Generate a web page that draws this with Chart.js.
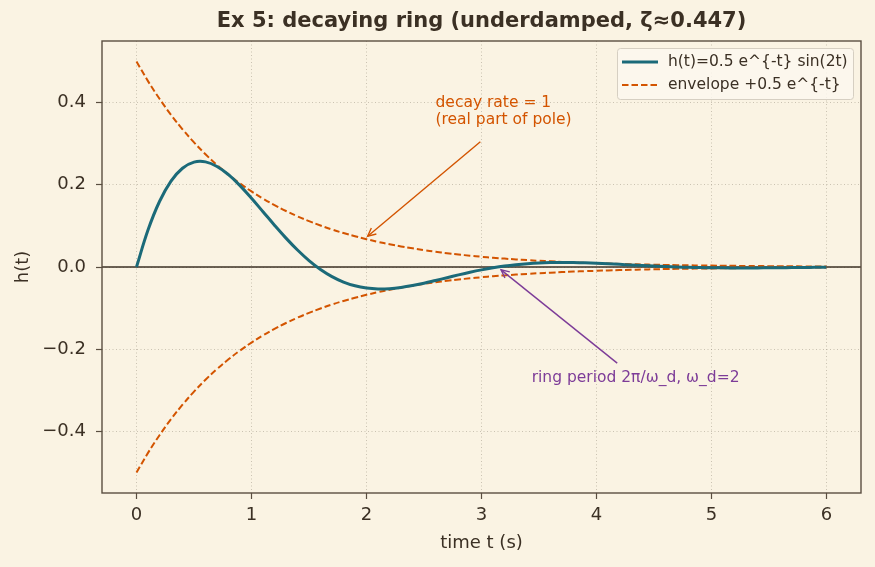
<!DOCTYPE html>
<html><head><meta charset="utf-8">
<script src="https://cdn.jsdelivr.net/npm/chart.js@4.4.1/dist/chart.umd.min.js"></script>
<style>html,body{margin:0;padding:0;background:#FAF3E3;}#wrap{width:875px;height:567px;}</style>
</head><body><div id="wrap"><canvas id="c" width="875" height="567"></canvas></div>
<script>
const T = [0,0.1,0.2,0.3,0.4,0.5,0.6,0.7,0.8,0.9,1.0,1.1,1.2,1.3,1.4,1.5,1.6,1.7,1.8,1.9,2.0,2.1,2.2,2.3,2.4,2.5,2.6,2.7,2.8,2.9,3.0,3.1,3.2,3.3,3.4,3.5,3.6,3.7,3.8,3.9,4.0,4.1,4.2,4.3,4.4,4.5,4.6,4.7,4.8,4.9,5.0,5.1,5.2,5.3,5.4,5.5,5.6,5.7,5.8,5.9,6.0];
const H = [0,0.0899,0.1594,0.2091,0.2404,0.2552,0.2558,0.2447,0.2246,0.1980,0.1673,0.1346,0.1017,0.0703,0.0413,0.0157,-0.0059,-0.0233,-0.0366,-0.0458,-0.0512,-0.0534,-0.0527,-0.0498,-0.0452,-0.0394,-0.0328,-0.0260,-0.0192,-0.0128,-0.0070,-0.0019,0.0024,0.0057,0.0082,0.0099,0.0108,0.0111,0.0108,0.0101,0.0091,0.0078,0.0064,0.0050,0.0036,0.0023,0.0011,0.0001,-0.0007,-0.0014,-0.0018,-0.0021,-0.0023,-0.0023,-0.0022,-0.0020,-0.0018,-0.0015,-0.0012,-0.0009,-0.0007];
const ENV_POS = [0.5,0.4524,0.4094,0.3704,0.3352,0.3033,0.2744,0.2483,0.2247,0.2033,0.1839,0.1664,0.1506,0.1363,0.1233,0.1116,0.1010,0.0913,0.0826,0.0748,0.0677,0.0612,0.0554,0.0501,0.0454,0.0410,0.0371,0.0336,0.0304,0.0275,0.0249,0.0225,0.0204,0.0184,0.0167,0.0151,0.0137,0.0124,0.0112,0.0101,0.0092,0.0083,0.0075,0.0068,0.0061,0.0056,0.0050,0.0045,0.0041,0.0037,0.0034,0.0030,0.0028,0.0025,0.0023,0.0020,0.0018,0.0017,0.0015,0.0014,0.0012];
const ENV_NEG = [-0.5,-0.4524,-0.4094,-0.3704,-0.3352,-0.3033,-0.2744,-0.2483,-0.2247,-0.2033,-0.1839,-0.1664,-0.1506,-0.1363,-0.1233,-0.1116,-0.1010,-0.0913,-0.0826,-0.0748,-0.0677,-0.0612,-0.0554,-0.0501,-0.0454,-0.0410,-0.0371,-0.0336,-0.0304,-0.0275,-0.0249,-0.0225,-0.0204,-0.0184,-0.0167,-0.0151,-0.0137,-0.0124,-0.0112,-0.0101,-0.0092,-0.0083,-0.0075,-0.0068,-0.0061,-0.0056,-0.0050,-0.0045,-0.0041,-0.0037,-0.0034,-0.0030,-0.0028,-0.0025,-0.0023,-0.0020,-0.0018,-0.0017,-0.0015,-0.0014,-0.0012];
const X_TICKS = [0,1,2,3,4,5,6];
const Y_TICKS = [-0.4,-0.2,0.0,0.2,0.4];
const ZERO_X = [-0.3,6.3];
const ZERO_Y = [0,0];

const TXT = '#3b3024';
const TEAL = '#1b6a79';
const ORANGE = '#d35400';
const PURPLE = '#7d3c98';
const FONT = "'DejaVu Sans', sans-serif";

function pts(xs, ys){ return xs.map((x,i)=>({x:x,y:ys[i]})); }

function arrow(ctx, x1,y1,x2,y2,color){
  ctx.save();
  ctx.strokeStyle=color; ctx.fillStyle=color; ctx.lineWidth=1.4;
  ctx.beginPath(); ctx.moveTo(x1,y1); ctx.lineTo(x2,y2); ctx.stroke();
  const a=Math.atan2(y2-y1,x2-x1), L=9, w=0.45;
  ctx.beginPath();
  ctx.moveTo(x2-L*Math.cos(a-w), y2-L*Math.sin(a-w));
  ctx.lineTo(x2,y2);
  ctx.lineTo(x2-L*Math.cos(a+w), y2-L*Math.sin(a+w));
  ctx.stroke();
  ctx.restore();
}

const decor = {
  id:'decor',
  beforeDraw(chart){
    const ctx=chart.ctx; ctx.save(); ctx.fillStyle='#FAF3E3'; ctx.fillRect(0,0,chart.width,chart.height); ctx.restore();
  },
  afterDatasetsDraw(chart){
    const ctx=chart.ctx, xs=chart.scales.x, ys=chart.scales.y, a=chart.chartArea;
    ctx.save();
    ctx.font="15.5px "+FONT; ctx.fillStyle=ORANGE; ctx.textAlign='left'; ctx.textBaseline='middle';
    ctx.fillText('decay rate = 1', xs.getPixelForValue(2.6), ys.getPixelForValue(0.400));
    ctx.fillText('(real part of pole)', xs.getPixelForValue(2.6), ys.getPixelForValue(0.357));
    arrow(ctx, xs.getPixelForValue(2.99), ys.getPixelForValue(0.305), xs.getPixelForValue(2.01), ys.getPixelForValue(0.075), ORANGE);
    ctx.fillStyle=PURPLE; ctx.textAlign='center';
    ctx.fillText('ring period 2π/ω_d, ω_d=2', xs.getPixelForValue(4.34), ys.getPixelForValue(-0.270));
    arrow(ctx, xs.getPixelForValue(4.18), ys.getPixelForValue(-0.234), xs.getPixelForValue(3.17), ys.getPixelForValue(-0.007), PURPLE);
    ctx.restore();
    ctx.save(); ctx.strokeStyle='#5a4e40'; ctx.lineWidth=1.4;
    ctx.strokeRect(a.left, a.top, a.right-a.left, a.bottom-a.top); ctx.restore();
    ctx.save();
    const lx=617, ly=48, lw=236, lh=51;
    ctx.fillStyle='rgba(252,247,238,0.85)'; ctx.strokeStyle='#d6cfc2'; ctx.lineWidth=1;
    ctx.beginPath(); ctx.roundRect(lx+0.5,ly+0.5,lw,lh,3); ctx.fill(); ctx.stroke();
    ctx.strokeStyle=TEAL; ctx.lineWidth=3;
    ctx.beginPath(); ctx.moveTo(622,62); ctx.lineTo(658,62); ctx.stroke();
    ctx.strokeStyle=ORANGE; ctx.lineWidth=2; ctx.setLineDash([6.5,3]);
    ctx.beginPath(); ctx.moveTo(622,85); ctx.lineTo(658,85); ctx.stroke();
    ctx.setLineDash([]);
    ctx.fillStyle=TXT; ctx.font="15.5px "+FONT; ctx.textAlign='left'; ctx.textBaseline='middle';
    ctx.fillText('h(t)=0.5 e^{-t} sin(2t)', 668, 62);
    ctx.fillText('envelope +0.5 e^{-t}', 668, 85);
    ctx.restore();
  },
  afterDraw(chart){
    const ctx=chart.ctx, a=chart.chartArea;
    ctx.save(); ctx.fillStyle=TXT; ctx.font="bold 21px "+FONT; ctx.textAlign='center'; ctx.textBaseline='middle';
    ctx.fillText('Ex 5: decaying ring (underdamped, ζ≈0.447)', (a.left+a.right)/2, 22);
    ctx.restore();
  }
};

new Chart(document.getElementById('c'), {
  type:'line',
  data:{ datasets:[
    {label:'h(t)=0.5 e^{-t} sin(2t)', data:pts(T,H), borderColor:TEAL, borderWidth:3, pointRadius:0, tension:0.4, fill:false, order:1},
    {label:'envelope +0.5 e^{-t}', data:pts(T,ENV_POS), borderColor:ORANGE, borderWidth:2, borderDash:[6.5,3], pointRadius:0, tension:0.4, fill:false, order:2},
    {label:'envelope -', data:pts(T,ENV_NEG), borderColor:ORANGE, borderWidth:2, borderDash:[6.5,3], pointRadius:0, tension:0.4, fill:false, order:3},
    {label:'zero', data:pts(ZERO_X,ZERO_Y), borderColor:'#3b3024', borderWidth:1.4, pointRadius:0, fill:false, order:4}
  ]},
  options:{
    responsive:false, animation:false, devicePixelRatio:1,
    layout:{padding:{left:0,right:14,top:41,bottom:0}},
    plugins:{legend:{display:false}, tooltip:{enabled:false}, title:{display:false}},
    scales:{
      x:{ type:'linear', min:-0.3, max:6.3,
        afterFit(s){ s.height=74; },
        afterBuildTicks(s){ s.ticks = X_TICKS.map(v=>({value:v})); },
        ticks:{ color:TXT, font:{family:FONT,size:18}, padding:6, callback:v=>String(v) },
        grid:{ color:'rgba(150,140,125,0.6)', lineWidth:0.8, tickColor:'#5a4e40', tickWidth:1.2, tickLength:6, tickBorderDash:[] },
        border:{ display:false, dash:[1,2.5] },
        title:{ display:true, text:'time t (s)', color:TXT, font:{family:FONT,size:18}, padding:{top:0,bottom:13} }
      },
      y:{ type:'linear', min:-0.55, max:0.55,
        afterFit(s){ s.width=102; },
        afterBuildTicks(s){ s.ticks = Y_TICKS.map(v=>({value:v})); },
        ticks:{ color:TXT, font:{family:FONT,size:18}, padding:10, callback:v=>(v<0?'\u2212':'')+Math.abs(v).toFixed(1) },
        grid:{ color:'rgba(150,140,125,0.6)', lineWidth:0.8, tickColor:'#5a4e40', tickWidth:1.2, tickLength:6, tickBorderDash:[] },
        border:{ display:false, dash:[1,2.5] },
        title:{ display:true, text:'h(t)', color:TXT, font:{family:FONT,size:18}, padding:{top:13,bottom:0} }
      }
    }
  },
  plugins:[decor]
});
</script></body></html>
